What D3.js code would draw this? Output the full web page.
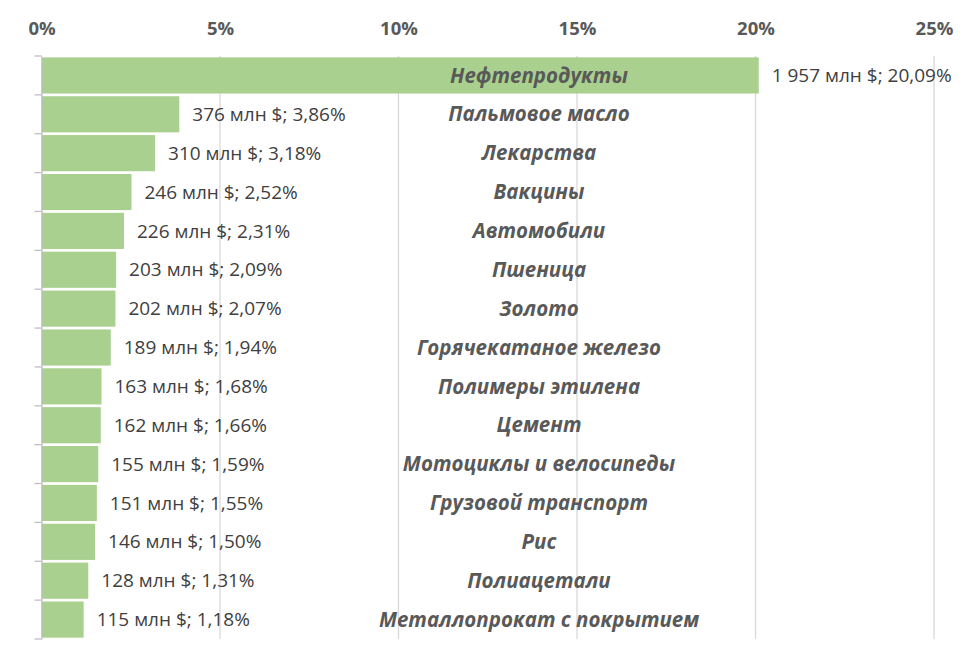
<!DOCTYPE html>
<html>
<head>
<meta charset="utf-8">
<script src="https://cdn.jsdelivr.net/npm/d3@7"></script>
<style>
  body { margin: 0; background: #fff; }
  svg { display: block; }
</style>
</head>
<body>
<div id="chart"></div>
<script>
// категории, сверху вниз
var categories = [
  "Нефтепродукты", "Пальмовое масло", "Лекарства", "Вакцины", "Автомобили",
  "Пшеница", "Золото", "Горячекатаное железо", "Полимеры этилена", "Цемент",
  "Мотоциклы и велосипеды", "Грузовой транспорт", "Рис", "Полиацетали",
  "Металлопрокат с покрытием"
];
var valuesMln = ["1 957", "376", "310", "246", "226", "203", "202", "189", "163", "162", "155", "151", "146", "128", "115"];
var shares = [20.09, 3.86, 3.18, 2.52, 2.31, 2.09, 2.07, 1.94, 1.68, 1.66, 1.59, 1.55, 1.50, 1.31, 1.18];
var xTicks = [0, 5, 10, 15, 20, 25];

var width = 979, height = 662;
var margin = {top: 56, right: 45, bottom: 23, left: 41.5};

var svg = d3.select("#chart").append("svg")
  .attr("width", width)
  .attr("height", height);

var x = d3.scaleLinear()
  .domain([0, 25])
  .range([margin.left, width - margin.right]);

var y = d3.scaleBand()
  .domain(categories)
  .range([margin.top, height - margin.bottom])
  .paddingInner(0.07)
  .paddingOuter(0.035);

var fmt = function(v) { return v.toFixed(2).replace(".", ","); };

// сетка
svg.append("g")
  .selectAll("line")
  .data(xTicks.slice(1))
  .enter().append("line")
  .attr("x1", function(d) { return x(d); })
  .attr("x2", function(d) { return x(d); })
  .attr("y1", margin.top)
  .attr("y2", height - margin.bottom)
  .attr("stroke", "#d9d9d9")
  .attr("stroke-width", 1.3);

// подписи оси сверху
var xAxis = svg.append("g")
  .attr("transform", "translate(0," + (margin.top - 21) + ")")
  .call(d3.axisTop(x).tickValues(xTicks).tickSize(0).tickPadding(0)
    .tickFormat(function(d) { return d + "%"; }));
xAxis.select(".domain").remove();
xAxis.selectAll("text")
  .attr("font-family", "'Open Sans', sans-serif")
  .attr("font-weight", "bold")
  .attr("font-size", 18.5)
  .attr("fill", "#595959");

// столбики
svg.append("g")
  .selectAll("rect")
  .data(categories)
  .enter().append("rect")
  .attr("x", x(0))
  .attr("y", function(d) { return y(d); })
  .attr("width", function(d, i) { return x(shares[i]) - x(0); })
  .attr("height", y.bandwidth())
  .attr("fill", "#a9d08e");

// левая ось
var yAxis = svg.append("g")
  .attr("transform", "translate(" + x(0) + ",0)")
  .call(d3.axisLeft(y).tickSize(0).tickFormat(""));
yAxis.select(".domain").attr("stroke", "#bfbfbf").attr("stroke-width", 1.3);
var step = y.step();
svg.append("g")
  .selectAll("line")
  .data(d3.range(categories.length + 1))
  .enter().append("line")
  .attr("x1", x(0) - 7)
  .attr("x2", x(0))
  .attr("y1", function(i) { return margin.top + i * step; })
  .attr("y2", function(i) { return margin.top + i * step; })
  .attr("stroke", "#bfbfbf")
  .attr("stroke-width", 1.3);

// значения
svg.append("g")
  .selectAll("text")
  .data(categories)
  .enter().append("text")
  .attr("x", function(d, i) { return x(shares[i]) + 13; })
  .attr("y", function(d) { return y(d) + y.bandwidth() / 2; })
  .attr("dy", "0.35em")
  .attr("font-family", "'Open Sans', sans-serif")
  .attr("font-size", 19)
  .attr("fill", "#404040")
  .text(function(d, i) { return valuesMln[i] + " млн $; " + fmt(shares[i]) + "%"; });

// названия
svg.append("g")
  .selectAll("text")
  .data(categories)
  .enter().append("text")
  .attr("x", 539)
  .attr("y", function(d) { return y(d) + y.bandwidth() / 2; })
  .attr("dy", "0.35em")
  .attr("text-anchor", "middle")
  .attr("font-family", "'Open Sans', sans-serif")
  .attr("font-weight", "bold")
  .attr("font-style", "italic")
  .attr("font-size", 20.5)
  .attr("fill", "#595959")
  .text(function(d) { return d; });
</script>
</body>
</html>
